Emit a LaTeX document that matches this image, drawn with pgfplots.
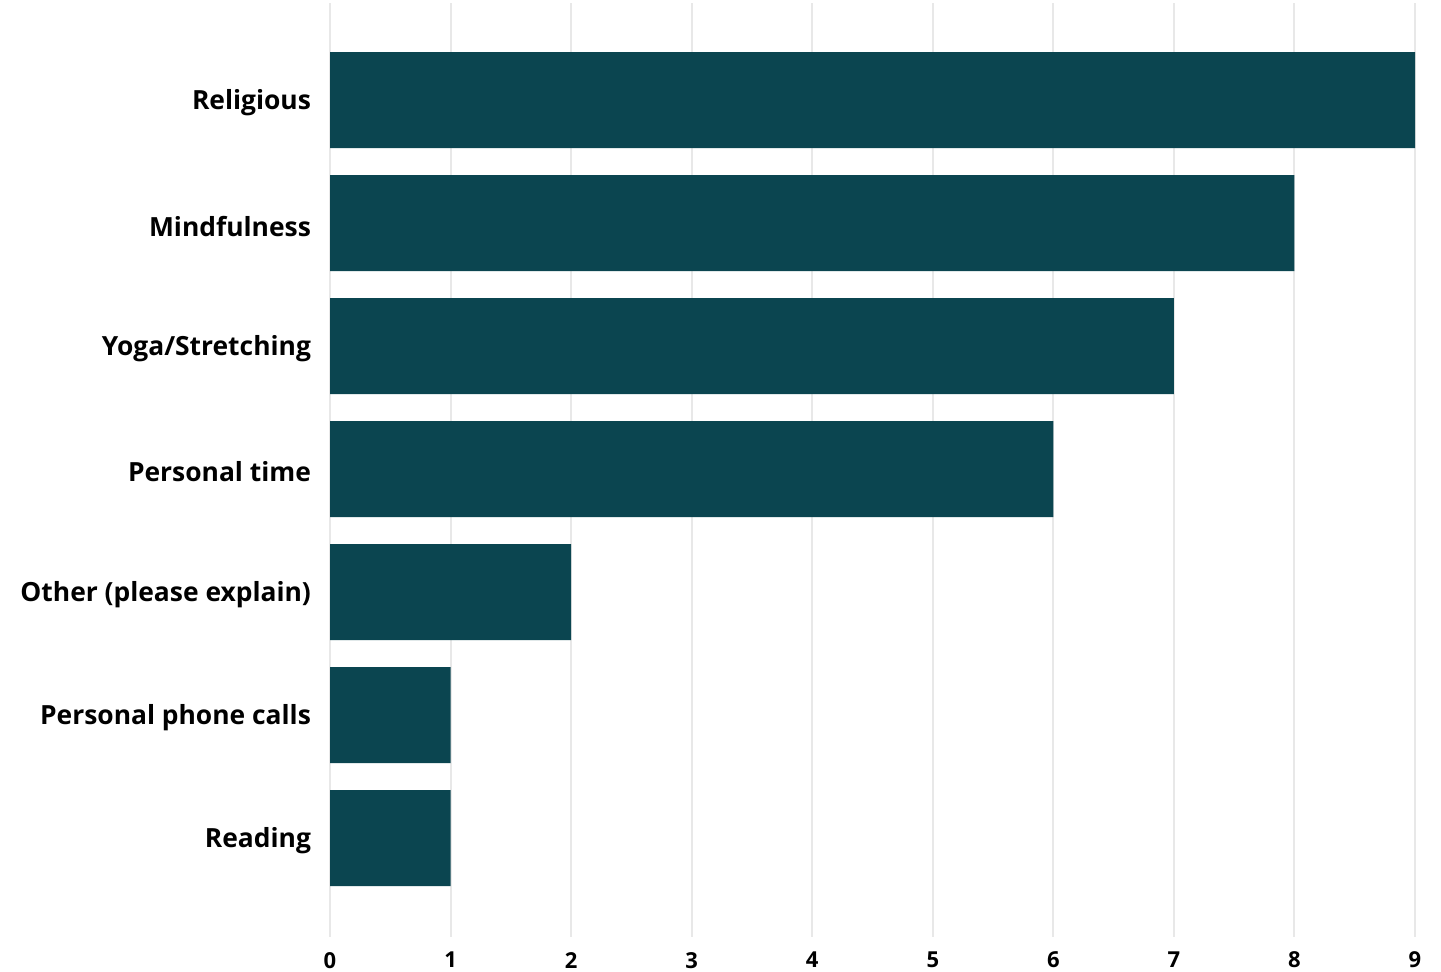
\documentclass[border=0pt]{standalone}
\usepackage{fontspec}
\setmainfont{Open Sans}
\usepackage{pgfplots}
\pgfplotsset{compat=1.18}
\definecolor{barcol}{HTML}{0B4550}
\definecolor{gridcol}{HTML}{E8E8E8}
\begin{document}
\begin{tikzpicture}
\begin{axis}[
  scale only axis,
  width=542.5pt, height=467pt,
  xmin=0, xmax=9, ymin=-0.805, ymax=6.789,
  axis line style={draw=none},
  xtick={0,...,9},
  ytick={0,...,6},
  yticklabels={Reading,Personal phone calls,Other (please explain),Personal time,Yoga/Stretching,Mindfulness,Religious},
  major tick length=0pt,
  xmajorgrids, ymajorgrids=false,
  major grid style={draw=gridcol, line width=1pt},
  /pgf/number format/assume math mode=true,
  xticklabel style={font=\fontsize{11}{12}\selectfont\bfseries, yshift=-4pt},
  yticklabel style={font=\fontsize{13.2}{16}\selectfont\bfseries, xshift=-6pt, yshift=-1.5pt},
  xbar, bar width=48pt,
]
\addplot[fill=barcol, draw=none] coordinates {(1,0) (1,1) (2,2) (6,3) (7,4) (8,5) (9,6)};
\end{axis}
\pgfresetboundingbox
\path[use as bounding box] (current axis.south west) ++(-165pt,-17pt) rectangle ([xshift=13pt,yshift=1.5pt]current axis.north east);
\end{tikzpicture}
\end{document}
